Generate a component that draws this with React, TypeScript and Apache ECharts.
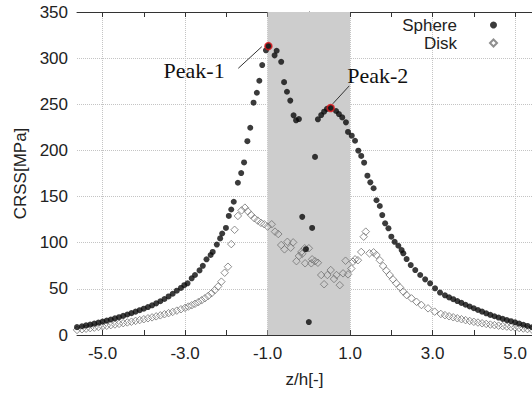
import React, { useEffect, useRef } from "react";
import * as echarts from "echarts";

const xMin = -5.62;
const xMax = 5.41;
const xLabelTicks = [-5, -3, -1, 1, 3, 5];
const xMinorTicks = [-5, -4, -3, -2, -1, 0, 1, 2, 3, 4, 5];
const shadedRange = [-1, 1];

const sphere: [number, number][] = [
  [-5.62, 8.5], [-5.5, 9.5], [-5.4, 10.4], [-5.3, 11.3], [-5.2, 12.3], [-5.1, 13.4], [-5.0, 14.5],
  [-4.9, 15.6], [-4.8, 16.8], [-4.7, 18.0], [-4.6, 19.3], [-4.5, 20.7], [-4.4, 22.2], [-4.3, 23.7],
  [-4.2, 25.3], [-4.1, 26.9], [-4.0, 28.5], [-3.9, 30.3], [-3.8, 32.2], [-3.7, 34.3], [-3.6, 36.6],
  [-3.5, 39.0], [-3.4, 41.8], [-3.3, 44.7], [-3.2, 48.0], [-3.1, 51.0], [-3.02, 54.0],
  [-2.94, 56], [-2.84, 61.4], [-2.76, 65], [-2.65, 70], [-2.57, 75], [-2.48, 82], [-2.38, 86.7],
  [-2.33, 90], [-2.23, 98], [-2.15, 104.7], [-2.1, 110], [-2.01, 116], [-1.94, 129], [-1.88, 136],
  [-1.82, 144.4], [-1.72, 165], [-1.64, 175.5], [-1.57, 187], [-1.49, 210], [-1.42, 224.6],
  [-1.34, 251.7], [-1.26, 262.5], [-1.2, 275.5], [-1.13, 292.5], [-1.04, 308.5], [-0.98, 313],
  [-0.83, 303], [-0.78, 308], [-0.67, 296], [-0.6, 274], [-0.53, 263.6], [-0.45, 254], [-0.37, 238],
  [-0.31, 232.6], [-0.24, 234], [-0.16, 128], [-0.07, 93], [0.0, 14], [0.08, 116], [0.15, 193],
  [0.22, 233.7], [0.3, 238.3], [0.37, 242], [0.44, 245], [0.53, 246], [0.66, 242.7], [0.73, 239.4],
  [0.81, 235.8], [0.9, 230.4], [0.95, 220], [1.04, 216], [1.12, 210.5], [1.2, 199.7], [1.27, 194],
  [1.34, 186.7], [1.42, 172.6], [1.49, 165.4], [1.57, 159], [1.64, 146], [1.72, 139.8], [1.78, 130],
  [1.85, 121], [1.93, 115.6], [2.0, 106.5], [2.08, 101], [2.17, 96.7], [2.25, 92], [2.29, 88.5],
  [2.37, 82.3], [2.47, 75.8], [2.58, 70.4], [2.7, 65], [2.82, 60.3], [2.94, 56], [3.06, 50.6],
  [3.18, 46], [3.3, 43], [3.4, 40.8], [3.5, 38.8], [3.6, 36.8], [3.7, 34.8], [3.8, 32.8], [3.9, 30.9],
  [4.0, 29], [4.1, 27.1], [4.2, 25.3], [4.3, 23.5], [4.4, 21.8], [4.5, 20.3], [4.6, 18.9], [4.7, 17.5],
  [4.8, 16.2], [4.9, 15.0], [5.0, 13.7], [5.1, 12.4], [5.2, 11.1], [5.3, 9.8], [5.41, 8.4],
];

const disk: [number, number][] = [
  [-5.62, 5.5], [-5.5, 6.2], [-5.4, 6.8], [-5.3, 7.4], [-5.2, 8.0], [-5.1, 8.7], [-5.0, 9.4],
  [-4.9, 10.0], [-4.8, 10.7], [-4.7, 11.4], [-4.6, 12.1], [-4.5, 12.8], [-4.4, 13.6], [-4.3, 14.4],
  [-4.2, 15.3], [-4.1, 16.2], [-4.0, 17.1], [-3.9, 18.1], [-3.8, 19.1], [-3.7, 20.2], [-3.6, 21.3],
  [-3.5, 22.5], [-3.4, 23.7], [-3.3, 25.0], [-3.2, 26.4], [-3.1, 27.9], [-3.0, 29.4], [-2.92, 30.8],
  [-2.84, 32.2], [-2.76, 33.8], [-2.68, 35.6], [-2.6, 37.6], [-2.52, 39.8], [-2.44, 42.3],
  [-2.36, 45.2], [-2.28, 48.6], [-2.2, 52.6], [-2.12, 57.8], [-2.04, 67.5], [-1.96, 74],
  [-1.88, 98.5], [-1.8, 114], [-1.72, 129], [-1.63, 135], [-1.55, 138], [-1.48, 134], [-1.4, 130],
  [-1.32, 126.5], [-1.24, 124], [-1.16, 121.5], [-1.08, 120], [-1.0, 117.5],
  [-0.9, 120], [-0.82, 112], [-0.74, 109.4], [-0.67, 97.5], [-0.59, 92.8], [-0.52, 101],
  [-0.44, 94.6], [-0.38, 100.4], [-0.3, 80], [-0.24, 85.6], [-0.18, 90], [-0.16, 88], [-0.1, 94],
  [-0.09, 77.7], [0.0, 94], [0.06, 77.7], [0.08, 82], [0.15, 80], [0.22, 78.3], [0.3, 65], [0.37, 55],
  [0.45, 65], [0.53, 70.4], [0.61, 60.7], [0.67, 65], [0.75, 54], [0.83, 66.8], [0.89, 80.5],
  [0.95, 65.7], [1.03, 72], [1.07, 79.4], [1.12, 82], [1.19, 81], [1.27, 90], [1.33, 106.5],
  [1.38, 112], [1.47, 88.5], [1.57, 89.6], [1.64, 86.7], [1.72, 81], [1.8, 74.8], [1.88, 69.7],
  [1.96, 65], [2.04, 60.3], [2.12, 56], [2.21, 51.6], [2.29, 47], [2.37, 43.3], [2.49, 39.7],
  [2.61, 36], [2.73, 32.5], [2.89, 28.9], [3.05, 25.3], [3.2, 22.8], [3.3, 21.5], [3.4, 20.3],
  [3.5, 19.2], [3.6, 18.1], [3.7, 17.1], [3.8, 16.1], [3.9, 15.2], [4.0, 14.3], [4.1, 13.5],
  [4.2, 12.7], [4.3, 12.0], [4.4, 11.3], [4.5, 10.7], [4.6, 10.1], [4.7, 9.6], [4.8, 9.1],
  [4.9, 8.6], [5.0, 8.1], [5.1, 7.6], [5.2, 7.0], [5.3, 6.4], [5.41, 5.8],
];

const peaks: [number, number][] = [
  [-0.98, 313],
  [0.53, 246],
];
const peakLabels = ["Peak-1", "Peak-2"];
const peakLabelAt: [number, number][] = [
  [-2.78, 287],
  [1.67, 281.5],
];
const peakLeaders: [[number, number], [number, number]][] = [
  [[-1.71, 289], [-1.14, 312.4]],
  [[0.98, 270], [0.58, 250.5]],
];

const SANS = "'Liberation Sans', Arial, Helvetica, sans-serif";
const SERIF = "'Liberation Serif', 'Times New Roman', serif";
const AXIS_COLOR = "#333";

export default function App() {
  const ref = useRef<HTMLDivElement>(null);
  useEffect(() => {
    if (!ref.current) return;
    const chart = echarts.init(ref.current, undefined, { renderer: "svg" });
    const gridLine = { show: true, lineStyle: { type: "dotted" as const, color: "#c4c4c4", width: 1 } };
    chart.setOption({
      animation: false,
      backgroundColor: "#fff",
      grid: { left: 77, top: 12, right: 0, bottom: 58, containLabel: false },
      legend: {
        data: ["Sphere", "Disk"],
        orient: "vertical",
        align: "right",
        right: 34,
        top: 16,
        padding: 0,
        itemWidth: 7,
        itemHeight: 7,
        itemGap: 0,
        symbolKeepAspect: true,
        textStyle: { fontFamily: SANS, fontSize: 17, color: "#222", lineHeight: 18, padding: [0, 28, 0, 0] },
        selectedMode: false,
      },
      xAxis: [
        {
          type: "value",
          min: xMin,
          max: xMax,
          position: "bottom",
          name: "z/h[-]",
          nameLocation: "middle",
          nameGap: 36,
          nameTextStyle: { fontFamily: SANS, fontSize: 17, color: "#222" },
          axisLine: { show: true, onZero: false, lineStyle: { color: AXIS_COLOR, width: 1 } },
          axisTick: { show: true, inside: true, length: 5, customValues: xMinorTicks, lineStyle: { color: AXIS_COLOR } },
          axisLabel: {
            customValues: xLabelTicks,
            formatter: (v: number) => v.toFixed(1),
            fontFamily: SANS,
            fontSize: 17,
            color: "#222",
            margin: 10,
          },
          splitLine: { show: false },
        },
        {
          type: "value",
          min: xMin,
          max: xMax,
          position: "top",
          axisLine: { show: true, onZero: false, lineStyle: { color: AXIS_COLOR, width: 1 } },
          axisTick: { show: true, inside: true, length: 5, customValues: xMinorTicks, lineStyle: { color: AXIS_COLOR } },
          axisLabel: { show: false },
          splitLine: { show: false },
        },
        {
          type: "value",
          min: xMin,
          max: xMax,
          position: "bottom",
          axisLine: { show: false },
          axisTick: { show: false, customValues: xLabelTicks },
          axisLabel: { show: false },
          splitLine: gridLine,
        },
      ],
      yAxis: {
        type: "value",
        min: 0,
        max: 350,
        interval: 50,
        name: "CRSS[MPa]",
        nameLocation: "middle",
        nameGap: 47,
        nameRotate: 90,
        nameTextStyle: { fontFamily: SANS, fontSize: 17, color: "#222" },
        axisLine: { show: true, lineStyle: { color: AXIS_COLOR, width: 1 } },
        axisTick: { show: true, inside: true, length: 5, lineStyle: { color: AXIS_COLOR } },
        axisLabel: { fontFamily: SANS, fontSize: 17, color: "#222", margin: 9 },
        splitLine: gridLine,
      },
      series: [
        {
          name: "Disk",
          type: "scatter",
          data: disk,
          symbol: "diamond",
          symbolSize: 7.5,
          itemStyle: { color: "rgba(0,0,0,0)", borderColor: "#737373", borderWidth: 1 },
          markArea: {
            silent: true,
            itemStyle: { color: "#cdcdcd" },
            data: [[{ xAxis: shadedRange[0] }, { xAxis: shadedRange[1] }]],
          },
        },
        {
          name: "Sphere",
          type: "scatter",
          data: sphere,
          symbol: "circle",
          symbolSize: 6,
          itemStyle: { color: "#0a0a0a" },
        },
        {
          name: "Peaks",
          type: "scatter",
          data: peaks,
          symbol: "circle",
          symbolSize: 7,
          itemStyle: { color: "#1a1a1a", borderColor: "#e0161c", borderWidth: 1.6 },
          z: 5,
          markLine: {
            silent: true,
            symbol: ["none", "none"],
            label: { show: false },
            lineStyle: { color: "#333", width: 1, type: "solid" },
            data: peakLeaders.map(([a, b]) => [{ coord: a }, { coord: b }]),
          },
          markPoint: {
            silent: true,
            symbol: "rect",
            symbolSize: 1,
            itemStyle: { color: "rgba(0,0,0,0)" },
            label: {
              show: true,
              position: "inside",
              formatter: "{b}",
              fontFamily: SERIF,
              fontSize: 22,
              color: "#111",
            },
            data: peakLabels.map((name, i) => ({ name, coord: peakLabelAt[i] })),
          },
        },
      ],
    });
    return () => chart.dispose();
  }, []);
  return (
    <div
      ref={ref}
      style={{ position: "fixed", left: 0, top: 0, width: 532, height: 393 }}
    />
  );
}
